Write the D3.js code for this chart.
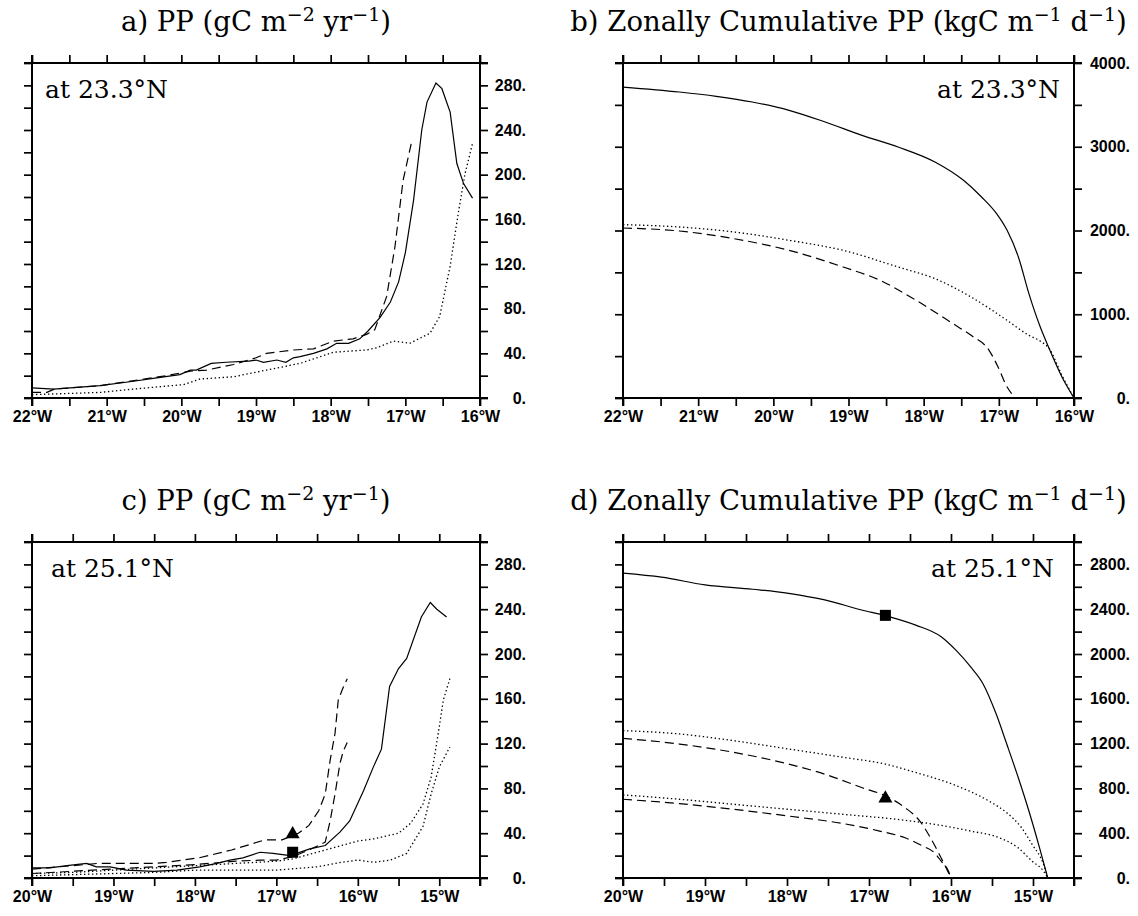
<!DOCTYPE html>
<html>
<head>
<meta charset="utf-8">
<script src="https://cdn.jsdelivr.net/npm/d3@7"></script>
<style>
  body { margin: 0; background: #fff; }
  svg { display: block; }
  .tick text { font-family: "Liberation Sans", Arial, sans-serif; font-weight: bold; font-size: 16px; fill: #000; }
  .tick line { stroke: #000; stroke-width: 1.7; }
  .title { font-family: "DejaVu Serif", serif; font-size: 27.5px; fill: #000; }
  .lat { font-family: "DejaVu Serif", serif; font-size: 25px; fill: #000; }
</style>
</head>
<body>
<svg width="1138" height="916"></svg>
<script>
// ---- data ([longitude, value]) ----

// a) PP at 23.3N
var ppA_solid = [[-22,9],[-21.71,8],[-21.09,11],[-20.64,15],[-20.33,18],[-20.02,21],[-19.88,25],[-19.8,25],
  [-19.6,31],[-19.4,32],[-19.1,33],[-19.0,34],[-18.9,32],[-18.72,34],[-18.6,32],[-18.5,36],[-18.41,37],
  [-18.23,40],[-18.05,44],[-17.92,49],[-17.76,49],[-17.61,53],[-17.5,60],[-17.34,72],[-17.2,86],
  [-17.09,104],[-17.0,130],[-16.89,177],[-16.78,240],[-16.71,265],[-16.59,282],[-16.51,277],[-16.4,256],
  [-16.31,210],[-16.22,192],[-16.1,179]];
var ppA_dash = [[-22,5],[-21.8,5],[-21.7,8],[-21.09,11],[-20.5,17],[-20.2,20],[-19.88,24],[-19.66,25],
  [-19.3,30],[-19.0,36],[-18.86,40],[-18.5,43],[-18.23,44],[-17.96,51],[-17.7,53],[-17.52,57],[-17.41,61],
  [-17.25,91],[-17.14,135],[-17.03,195],[-16.91,231]];
var ppA_dot = [[-22,3],[-21.09,5],[-20.64,8],[-19.97,12],[-19.75,17],[-19.3,19],[-18.86,25],[-18.41,31],
  [-18.14,37],[-17.96,41],[-17.74,42],[-17.52,43],[-17.38,45],[-17.16,51],[-16.94,49],[-16.67,58],
  [-16.54,73],[-16.4,118],[-16.29,166],[-16.2,201],[-16.1,228]];

// b) zonally cumulative PP at 23.3N
var cumB_solid = [[-22,3713],[-21.25,3654],[-20.76,3602],[-20.28,3534],[-19.79,3435],[-19.31,3295],
  [-18.82,3136],[-18.34,2997],[-17.85,2818],[-17.47,2599],[-17.23,2400],[-17.03,2201],[-16.89,2002],
  [-16.74,1684],[-16.6,1246],[-16.45,850],[-16.33,590],[-16.16,251],[-16.0,0]];
var cumB_dot = [[-22,2070],[-21.25,2042],[-20.52,1982],[-19.79,1883],[-19.07,1763],[-18.34,1564],
  [-17.85,1425],[-17.37,1206],[-16.89,927],[-16.6,748],[-16.45,680],[-16.33,590],[-16.16,270],[-16.0,0]];
var cumB_dash = [[-22,2030],[-21.25,1994],[-20.52,1902],[-19.79,1763],[-19.07,1564],[-18.58,1405],
  [-18.1,1166],[-17.61,888],[-17.37,748],[-17.13,569],[-17.01,370],[-16.89,131],[-16.83,52]];

// c) PP at 25.1N
var ppC_solid = [[-20,9],[-19.78,9],[-19.57,11],[-19.33,13],[-19.21,10],[-19.04,10],[-18.84,7],[-18.51,6],
  [-18.22,7],[-17.94,10],[-17.73,13],[-17.57,16],[-17.41,18],[-17.2,23],[-17.04,22],[-16.83,20],
  [-16.59,26],[-16.4,29],[-16.22,41],[-16.1,51],[-15.93,78],[-15.81,99],[-15.71,115],[-15.61,171],
  [-15.5,187],[-15.4,196],[-15.22,233],[-15.11,246],[-15.03,240],[-14.91,233]];
var ppC_dash1 = [[-20,8],[-19.5,11],[-19.2,13],[-18.5,13],[-18.35,14],[-17.95,18],[-17.55,25],[-17.14,34],
  [-16.93,34],[-16.73,40],[-16.6,47],[-16.48,60],[-16.4,75],[-16.34,105],[-16.28,129],[-16.24,159],
  [-16.18,170],[-16.13,178]];
var ppC_dash2 = [[-20,4],[-19.5,6],[-19,8],[-18.5,10],[-18,12],[-17.5,15],[-17.2,16],[-17,16],[-16.8,19],
  [-16.6,25],[-16.4,32],[-16.34,51],[-16.28,75],[-16.22,102],[-16.18,113],[-16.13,121]];
var ppC_dot1 = [[-20,4],[-19.5,5],[-19,7],[-18.5,9],[-18,11],[-17.5,13],[-17,15],[-16.8,17],[-16.5,23],
  [-16.2,29],[-16,33],[-15.8,35],[-15.5,40],[-15.35,49],[-15.2,66],[-15.1,90],[-15,135],[-14.95,159],
  [-14.87,178]];
var ppC_dot2 = [[-20,2],[-19.5,3],[-19,4],[-18.5,5],[-18,7],[-17.5,7],[-17,7],[-16.5,10],[-16.2,14],
  [-16,16],[-15.8,14],[-15.6,16],[-15.4,22],[-15.3,34],[-15.2,46],[-15.1,75],[-15,99],[-14.87,117]];

// d) zonally cumulative PP at 25.1N
var cumD_solid = [[-20,2722],[-19.53,2686],[-19.0,2617],[-18.42,2578],[-17.98,2542],[-17.54,2483],
  [-17.09,2393],[-16.8,2342],[-16.43,2258],[-16.12,2154],[-15.94,2034],[-15.76,1884],[-15.61,1735],
  [-15.45,1466],[-15.32,1196],[-15.18,897],[-15.05,598],[-14.92,269],[-14.82,0]];
var cumD_dot1 = [[-20,1316],[-19.31,1286],[-18.65,1226],[-17.98,1152],[-17.31,1077],[-16.8,1017],
  [-16.43,942],[-15.98,837],[-15.54,688],[-15.32,583],[-15.14,449],[-15.01,299],[-14.87,120],[-14.82,0]];
var cumD_dash1 = [[-20,1247],[-19.31,1196],[-18.65,1122],[-17.98,1017],[-17.54,927],[-17.09,808],
  [-16.8,733],[-16.56,628],[-16.38,508],[-16.25,359],[-16.12,179],[-16.0,0]];
var cumD_dot2 = [[-20,742],[-19.31,703],[-18.65,658],[-17.98,613],[-17.31,568],[-16.65,523],[-16.2,479],
  [-15.76,419],[-15.41,359],[-15.18,269],[-15.01,150],[-14.87,60],[-14.82,0]];
var cumD_dash2 = [[-20,703],[-19.31,664],[-18.65,613],[-17.98,553],[-17.31,485],[-16.87,419],[-16.56,359],
  [-16.34,284],[-16.2,224],[-16.12,150],[-16.03,60],[-16.0,0]];

// symbols at the station
var markersC = [[-16.8,23,"square"],[-16.8,40,"triangle"]];
var markersD = [[-16.8,2345,"square"],[-16.8,720,"triangle"]];

// ticks and labels
var lonTicks22 = [-22,-21.5,-21,-20.5,-20,-19.5,-19,-18.5,-18,-17.5,-17,-16.5,-16];
var lonLabels22 = [-22,-21,-20,-19,-18,-17,-16];
var lonTicks20 = [-20,-19.5,-19,-18.5,-18,-17.5,-17,-16.5,-16,-15.5,-15,-14.5];
var lonLabels20 = [-20,-19,-18,-17,-16,-15];
var ppTicks = [0,20,40,60,80,100,120,140,160,180,200,220,240,260,280,300];
var ppLabels = [0,40,80,120,160,200,240,280];
var cumTicksB = [0,500,1000,1500,2000,2500,3000,3500,4000];
var cumLabelsB = [0,1000,2000,3000,4000];
var cumTicksD = [0,200,400,600,800,1000,1200,1400,1600,1800,2000,2200,2400,2600,2800,3000];
var cumLabelsD = [0,400,800,1200,1600,2000,2400,2800];

var svg = d3.select("svg");
svg.append("rect").attr("width", 1138).attr("height", 916).attr("fill", "#fff");

var styles = {
    solid: null,
    dash: "9,5",
    dot: "1.4,2.6"
};

function drawPanel(p)
{
    var x = d3.scaleLinear().domain(p.xDomain).range([p.left, p.right]);
    var y = d3.scaleLinear().domain(p.yDomain).range([p.bottom, p.top]);
    var g = svg.append("g");
    var tl = 8;

    // title with superscripts
    var t = g.append("text").attr("class", "title")
	.attr("x", (p.left + p.right) / 2).attr("y", p.top - 32)
	.attr("text-anchor", "middle");
    p.title.forEach(function(part)
		    {
			if (part.sup)
			    t.append("tspan").attr("dy", -10).attr("font-size", "19px").text(part.sup);
			else
			    t.append("tspan").attr("dy", part.after ? 10 : 0).text(part.txt);
		    });

    // ticks (no labels on top / left)
    g.append("g").attr("transform", "translate(0," + p.bottom + ")")
	.call(d3.axisBottom(x).tickValues(p.xTicks).tickSize(tl).tickPadding(5)
	      .tickFormat(function(d) { return p.xLabels.indexOf(d) >= 0 ? Math.abs(d) + "°W" : ""; }));
    g.append("g").attr("transform", "translate(0," + p.top + ")")
	.call(d3.axisTop(x).tickValues(p.xTicks).tickSize(tl).tickFormat(""));
    g.append("g").attr("transform", "translate(" + p.left + ",0)")
	.call(d3.axisLeft(y).tickValues(p.yTicks).tickSize(tl).tickFormat(""));
    var ry = g.append("g").attr("transform", "translate(" + p.right + ",0)")
	.call(d3.axisRight(y).tickValues(p.yTicks).tickSize(tl)
	      .tickFormat(function(d) { return p.yLabels.indexOf(d) >= 0 ? d + "." : ""; }));
    ry.selectAll("text").attr("text-anchor", "end").attr("x", p.labelRight);
    g.selectAll(".domain").remove();

    // frame, lines run past the corners like the tick marks
    var fr = [[p.left - tl, p.top, p.right + tl, p.top],
	      [p.left - tl, p.bottom, p.right + tl, p.bottom],
	      [p.left, p.top - tl, p.left, p.bottom + tl],
	      [p.right, p.top - tl, p.right, p.bottom + tl]];
    g.selectAll(".frame").data(fr).enter().append("line")
	.attr("x1", function(d) { return d[0]; }).attr("y1", function(d) { return d[1]; })
	.attr("x2", function(d) { return d[2]; }).attr("y2", function(d) { return d[3]; })
	.attr("stroke", "#000").attr("stroke-width", 2);

    var line = d3.line()
	.x(function(d) { return x(d[0]); })
	.y(function(d) { return y(d[1]); })
	.curve(p.smooth ? d3.curveMonotoneX : d3.curveLinear);

    p.series.forEach(function(s)
		     {
			 g.append("path").attr("d", line(s.data))
			     .attr("fill", "none").attr("stroke", "#000")
			     .attr("stroke-width", s.style == "dot" ? 1.3 : 1.2)
			     .attr("stroke-dasharray", styles[s.style]);
		     });

    (p.markers || []).forEach(function(m)
			      {
				  var cx = x(m[0]), cy = y(m[1]);
				  if (m[2] == "square")
				      g.append("rect").attr("x", cx - 5.5).attr("y", cy - 5.5)
				      .attr("width", 11).attr("height", 11).attr("fill", "#000");
				  else
				      g.append("path").attr("d", d3.symbol(d3.symbolTriangle, 85)())
				      .attr("transform", "translate(" + cx + "," + (cy + 1) + ")")
				      .attr("fill", "#000");
			      });

    // latitude label
    g.append("text").attr("class", "lat")
	.attr("x", p.latAnchor == "end" ? p.right - p.latPad : p.left + p.latPad)
	.attr("y", p.top + 35)
	.attr("text-anchor", p.latAnchor)
	.text(p.lat);
}

var titlePP = [{txt: "a) PP (gC m"}, {sup: "−2"}, {txt: " yr", after: true}, {sup: "−1"}, {txt: ")", after: true}];
var titleCum = [{txt: "b) Zonally Cumulative PP (kgC m"}, {sup: "−1"}, {txt: " d", after: true}, {sup: "−1"}, {txt: ")", after: true}];
function relabel(tt, letter)
{
    return tt.map(function(d, i) { return i == 0 ? {txt: letter + d.txt.slice(1)} : d; });
}

drawPanel({ left: 32, right: 480, top: 63, bottom: 398,
	    xDomain: [-22, -16], yDomain: [0, 300],
	    xTicks: lonTicks22, xLabels: lonLabels22, yTicks: ppTicks, yLabels: ppLabels,
	    labelRight: 46, title: titlePP, lat: "at 23.3°N", latAnchor: "start", latPad: 13,
	    series: [{data: ppA_solid, style: "solid"}, {data: ppA_dash, style: "dash"}, {data: ppA_dot, style: "dot"}] });

drawPanel({ left: 623, right: 1074, top: 63, bottom: 398,
	    xDomain: [-22, -16], yDomain: [0, 4000], smooth: true,
	    xTicks: lonTicks22, xLabels: lonLabels22, yTicks: cumTicksB, yLabels: cumLabelsB,
	    labelRight: 56, title: titleCum, lat: "at 23.3°N", latAnchor: "end", latPad: 14,
	    series: [{data: cumB_solid, style: "solid"}, {data: cumB_dash, style: "dash"}, {data: cumB_dot, style: "dot"}] });

drawPanel({ left: 32, right: 480, top: 542, bottom: 878,
	    xDomain: [-20, -14.5], yDomain: [0, 300],
	    xTicks: lonTicks20, xLabels: lonLabels20, yTicks: ppTicks, yLabels: ppLabels,
	    labelRight: 46, title: relabel(titlePP, "c"), lat: "at 25.1°N", latAnchor: "start", latPad: 19,
	    series: [{data: ppC_solid, style: "solid"}, {data: ppC_dash1, style: "dash"}, {data: ppC_dash2, style: "dash"},
		     {data: ppC_dot1, style: "dot"}, {data: ppC_dot2, style: "dot"}],
	    markers: markersC });

drawPanel({ left: 623, right: 1074, top: 542, bottom: 878,
	    xDomain: [-20, -14.5], yDomain: [0, 3000], smooth: true,
	    xTicks: lonTicks20, xLabels: lonLabels20, yTicks: cumTicksD, yLabels: cumLabelsD,
	    labelRight: 56, title: relabel(titleCum, "d"), lat: "at 25.1°N", latAnchor: "end", latPad: 20,
	    series: [{data: cumD_solid, style: "solid"}, {data: cumD_dash1, style: "dash"}, {data: cumD_dash2, style: "dash"},
		     {data: cumD_dot1, style: "dot"}, {data: cumD_dot2, style: "dot"}],
	    markers: markersD });
</script>
</body>
</html>
